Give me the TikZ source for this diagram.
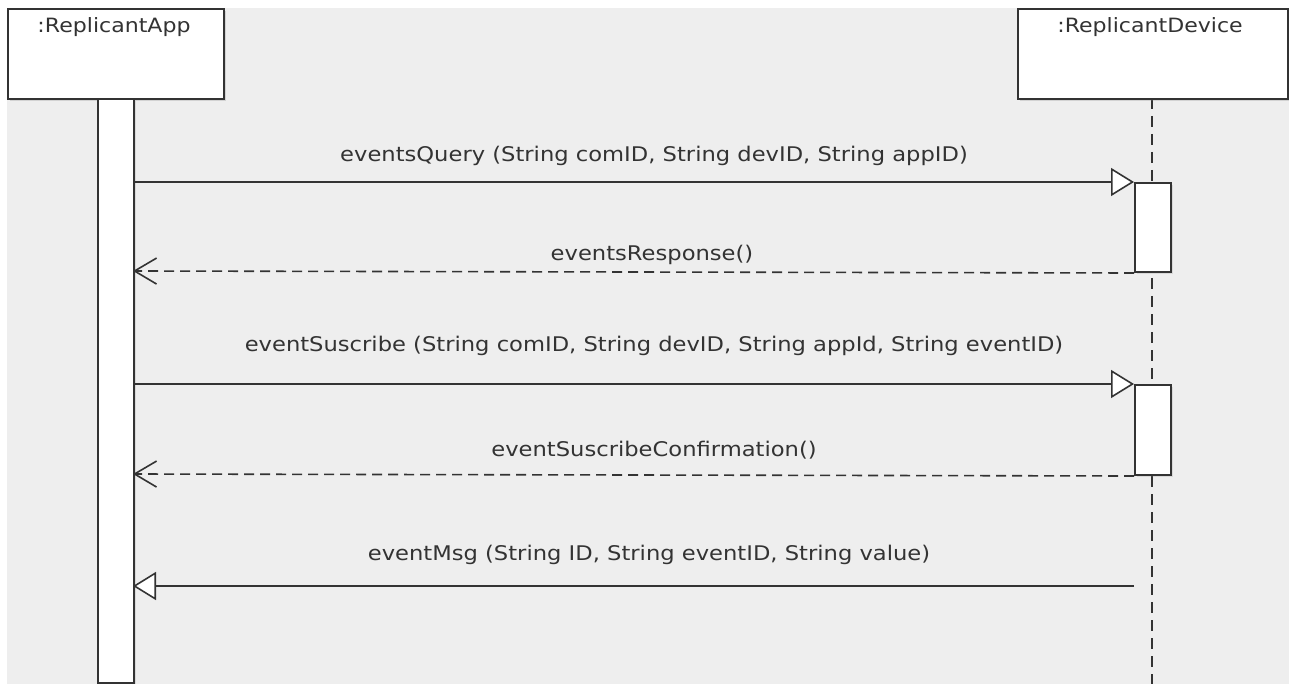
\documentclass[tikz,border=0pt]{standalone}
\usepackage{fontspec}
\setmainfont[FakeStretch=1.12]{DejaVu Sans}
\usetikzlibrary{arrows.meta,shadows}
\definecolor{ink}{HTML}{333333}
\definecolor{canvas}{HTML}{EEEEEE}
\tikzset{
  x=1pt, y=-1pt,
  lbl/.style={text=ink, font=\fontsize{20.2}{23}\selectfont, inner sep=0pt, anchor=base},
  hdr/.style={text=ink, font=\fontsize{19.7}{23}\selectfont, inner sep=0pt, anchor=base},
  objbox/.style={draw=ink, line width=2pt, fill=white, drop shadow={shadow xshift=2pt, shadow yshift=-2pt, opacity=0.25}},
  actbar/.style={draw=ink, line width=2pt, fill=white, drop shadow={shadow xshift=2pt, shadow yshift=-2pt, opacity=0.2}},
  lifeline/.style={draw=ink, line width=2pt, dash pattern=on 11pt off 7pt},
  callmsg/.style={draw=ink, line width=1.6pt, -{Triangle[length=23pt, width=28pt, fill=white, line width=1.6pt]}},
  replymsg/.style={draw=ink, line width=1.6pt, dash pattern=on 10pt off 6pt, -{Straight Barb[length=22pt, width=26pt, line width=1.6pt]}},
}
\begin{document}
\begin{tikzpicture}
\useasboundingbox (0,0) rectangle (1289,684);
\fill[white] (0,0) rectangle (1289,684);
\fill[canvas] (7,8) rectangle (1289,684);

% device lifeline
\draw[lifeline] (1152,98) -- (1152,684);

% lifeline heads
\node[objbox, minimum width=216pt, minimum height=90pt, anchor=north west, inner sep=0pt] (app) at (7,8) {};
\node[hdr] (apptxt) at (114,33) {:ReplicantApp};
\node[objbox, minimum width=270pt, minimum height=90pt, anchor=north west, inner sep=0pt] (dev) at (1017,8) {};
\node[hdr] (devtxt) at (1150,33) {:ReplicantDevice};

% activation bars
\node[actbar, minimum width=36pt, minimum height=584pt, anchor=north west, inner sep=0pt] (appbar) at (97,98) {};
\node[actbar, minimum width=36pt, minimum height=89pt, anchor=north west, inner sep=0pt] (devbar1) at (1134,182) {};
\node[actbar, minimum width=36pt, minimum height=90pt, anchor=north west, inner sep=0pt] (devbar2) at (1134,384) {};

% message anchor points
\coordinate (a1) at (133,182);
\coordinate (a2) at (133,271);
\coordinate (a3) at (133,384);
\coordinate (a4) at (133,474);
\coordinate (a5) at (133,586);
\coordinate (d5) at (1134,586);

% messages
\draw[callmsg] (a1) -- (devbar1.north west);
\node[lbl] (m1) at (654,162) {eventsQuery (String comID, String devID, String appID)};

\draw[replymsg] (devbar1.south west) -- (a2);
\node[lbl] (m2) at (652,261) {eventsResponse()};

\draw[callmsg] (a3) -- (devbar2.north west);
\node[lbl] (m3) at (654,351) {eventSuscribe (String comID, String devID, String appId, String eventID)};

\draw[replymsg] (devbar2.south west) -- (a4);
\node[lbl] (m4) at (654,456) {eventSuscribeConfirmation()};

\draw[callmsg] (d5) -- (a5);
\node[lbl] (m5) at (649,560) {eventMsg (String ID, String eventID, String value)};
\end{tikzpicture}
\end{document}
